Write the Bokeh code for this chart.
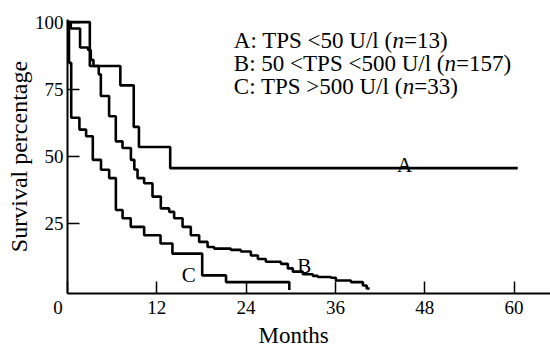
import math
from bokeh.plotting import figure
from bokeh.models import Range1d, FixedTicker, Label, Title
from bokeh.embed import file_html
from bokeh.resources import INLINE

# ---- data ----
months_a = [0, 3.0, 7.1, 8.9, 9.6, 13.8, 60.5]
surv_a = [100, 83.6, 76.4, 60.9, 53.4, 45.5, 45.5]

months_b = [0, 0.44, 1.69, 2.77, 3.13, 3.49, 4.2, 4.48, 5.59, 6.49, 7.39, 8.52, 8.98,
            9.41, 10.30, 11.42, 12.54, 13.66, 14.33, 15.46, 16.57, 17.69, 18.82, 19.70,
            21.95, 23.29, 24.64, 25.58, 26.65, 28.67, 29.61, 30.28, 31.62, 32.97, 33.64,
            35.39, 36.06, 38.08, 39.69, 40.2, 40.6]
surv_b = [100, 97.6, 90.5, 89.6, 85.9, 83.6, 80.5, 72.4, 64.9, 55.5, 53.0, 48.6, 45.0,
          41.8, 39.9, 34.9, 30.5, 29.2, 26.8, 23.6, 20.5, 18.0, 16.1, 15.5,
          15.0, 14.4, 12.9, 11.6, 10.6, 9.8, 8.1, 6.9, 5.9, 5.3, 4.9,
          4.6, 3.6, 3.0, 1.7, 0.6, 0.6]

months_c = [0, 0.2, 0.5, 1.6, 2.5, 3.4, 4.5, 5.6, 6.5, 7.4, 8.5, 10.3, 12.5, 14.1, 18.1, 21.3, 29.8]
surv_c = [100, 84.8, 64.3, 59.9, 57.4, 48.6, 44.9, 41.8, 29.9, 26.8, 23.6, 20.5, 17.4, 13.6, 5.5, 3.0, 0]

x_ticks = [0, 12, 24, 36, 48, 60]
y_ticks = [25, 50, 75, 100]

legend_pre = ["A: TPS <50 U/l (", "B: 50 <TPS <500 U/l (", "C: TPS >500 U/l ("]
legend_post = ["=13)", "=157)", "=33)"]
# widths of the prefixes in em (Times metrics) for placing the italic "n"
legend_pre_em = [6.898, 9.157, 7.343]

FONT = "Liberation Serif"

p = figure(width=550, height=347, output_backend="svg", toolbar_location=None,
           x_range=Range1d(0, 64.9), y_range=Range1d(-1.26, 100.97),
           min_border_left=67, min_border_right=0, min_border_top=19, min_border_bottom=53)
p.outline_line_color = None
p.grid.visible = False
p.background_fill_color = "white"
p.border_fill_color = "white"

for ax in (p.xaxis, p.yaxis):
    ax.axis_line_width = 2
    ax.axis_line_color = "black"
    ax.major_tick_in = 12
    ax.major_tick_out = 0
    ax.major_tick_line_width = 1.5
    ax.major_tick_line_color = "black"
    ax.minor_tick_line_color = None
    ax.major_label_text_font = FONT
    ax.major_label_text_font_size = "19px"
    ax.major_label_text_color = "black"

p.xaxis.ticker = FixedTicker(ticks=x_ticks)
p.xaxis.major_label_overrides = {0: "0\u00a0\u00a0\u00a0\u00a0"}
p.yaxis.ticker = FixedTicker(ticks=y_ticks)
p.xaxis.major_label_standoff = 3
p.yaxis.major_label_standoff = 4

p.yaxis.axis_label = "Survival percentage"
p.yaxis.axis_label_text_font = FONT
p.yaxis.axis_label_text_font_size = "24px"
p.yaxis.axis_label_text_font_style = "normal"
p.yaxis.axis_label_text_color = "black"
p.yaxis.axis_label_standoff = 0

p.add_layout(Title(text="Months", align="left", offset=191, standoff=0,
                   text_font=FONT, text_font_size="23px", text_font_style="normal",
                   text_color="black"), "below")

for xs, ys in ((months_a, surv_a), (months_b, surv_b), (months_c, surv_c)):
    p.step(xs, ys, mode="after", line_width=2.6, line_color="black")

# curve labels
for t, xx, yy in (("A", 45.3, 46.8), ("B", 31.8, 8.9), ("C", 16.3, 5.8)):
    p.add_layout(Label(x=xx, y=yy, text=t, text_font=FONT, text_font_size="21px",
                       text_align="center", text_baseline="alphabetic", text_color="black"))

# legend text
LFS = 23
leg_x = 22.35
leg_y = [93.2, 84.5, 75.8]
for pre, post, em, yy in zip(legend_pre, legend_post, legend_pre_em, leg_y):
    p.add_layout(Label(x=leg_x, y=yy, text=pre, text_font=FONT, text_font_size=f"{LFS}px",
                       text_align="left", text_baseline="alphabetic", text_color="black"))
    p.add_layout(Label(x=leg_x, y=yy, x_offset=em * LFS, text="n", text_font=FONT,
                       text_font_style="italic", text_font_size=f"{LFS}px",
                       text_align="left", text_baseline="alphabetic", text_color="black"))
    p.add_layout(Label(x=leg_x, y=yy, x_offset=(em + 0.5) * LFS, text=post, text_font=FONT,
                       text_font_size=f"{LFS}px", text_align="left",
                       text_baseline="alphabetic", text_color="black"))

open("out.html", "w").write(file_html(p, INLINE))
